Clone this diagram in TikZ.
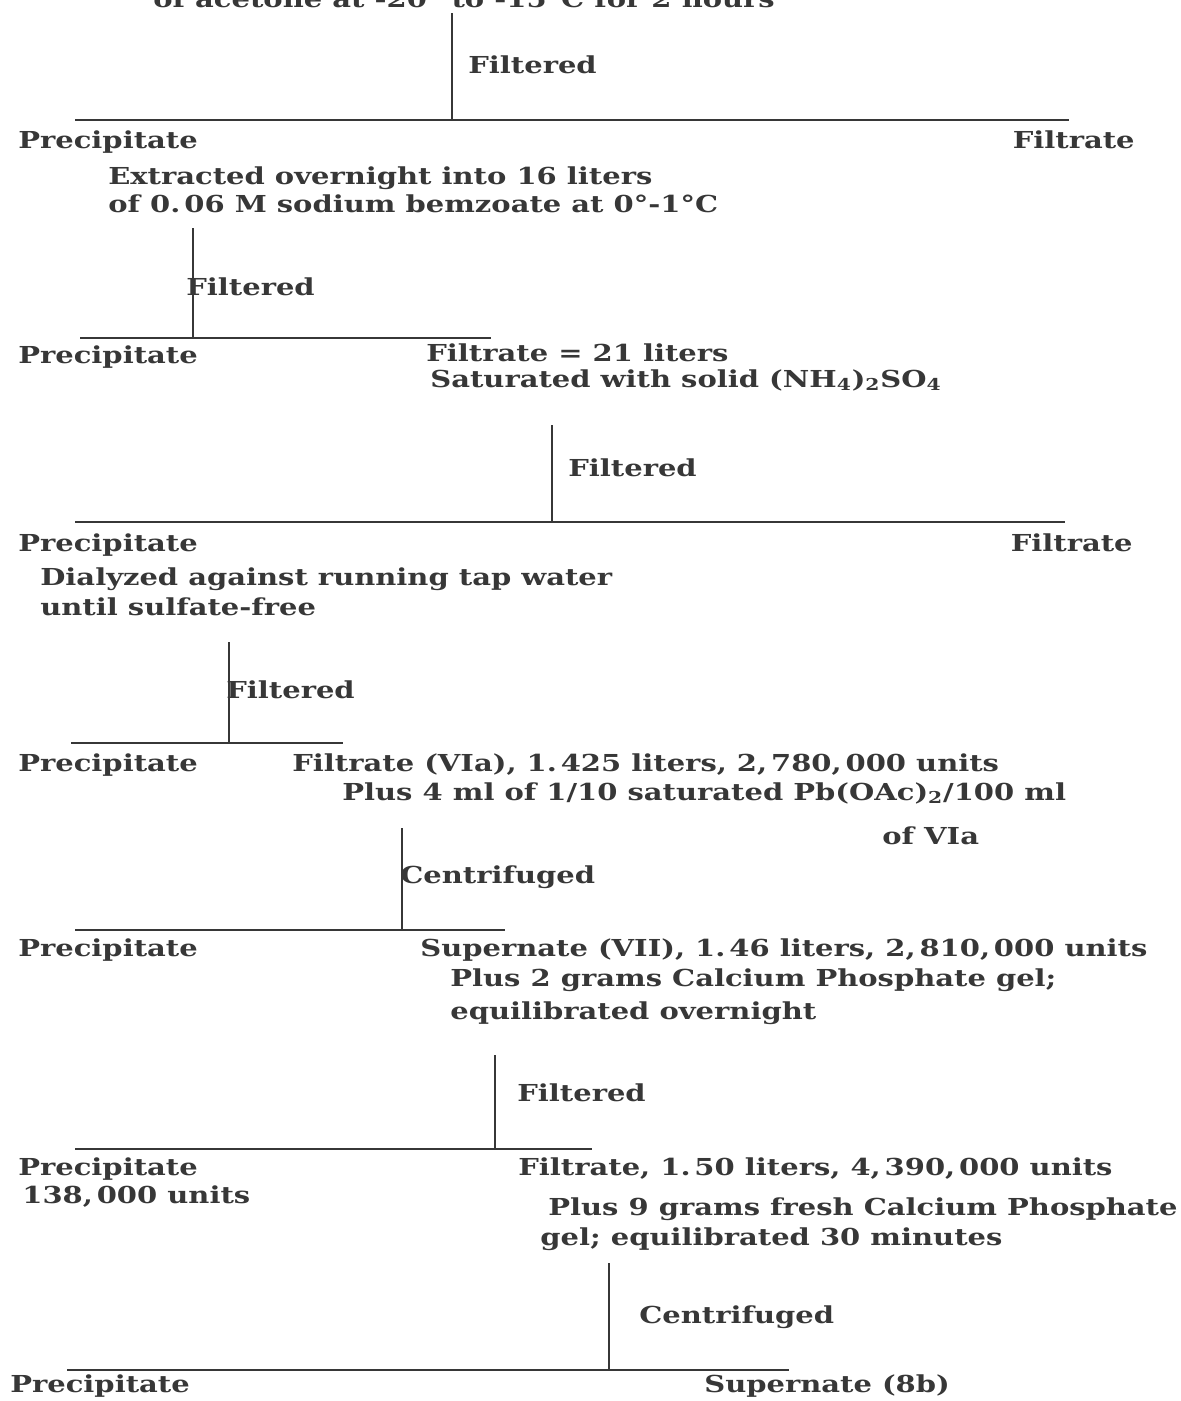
\documentclass[tikz,border=0pt]{standalone}
\usepackage{fontspec}
\newfontfamily\typed{DejaVu Serif}[FakeStretch=1.24]
\usepackage{tikz}
\usetikzlibrary{positioning}
\definecolor{ink}{RGB}{55,55,55}
\tikzset{
  stepnote/.style={anchor=base west, inner sep=0pt, text=ink,
    font=\typed\bfseries\fontsize{13.3}{16}\selectfont},
  sidenote/.style={stepnote, anchor=base east},
  stem/.style={draw=ink, line width=1.3pt},
  bar/.style={draw=ink, line width=1.6pt}
}

\begin{document}
\begin{tikzpicture}[x=0.02cm, y=-0.02cm]
  \useasboundingbox (0,0) rectangle (1181,1401);

  %% Step 1: acetone
  \node[stepnote] (acetone) at (153,7) {of acetone at -20° to -15°C for 2 hours};
  \node[stepnote] (filt1) at (468,73) {Filtered};
  \node[stepnote] (prec1) at (18,148) {Precipitate};
  \node[sidenote] (filtr1) at (1135,148) {Filtrate};
  \node[stepnote] (extr) at (108,184) {Extracted overnight into 16 liters};
  \node[stepnote] (benz) at (108,212) {of 0.\,06 M sodium bemzoate at 0°-1°C};

  %% Step 2: benzoate extract
  \node[stepnote] (filt2) at (186,295) {Filtered};
  \node[stepnote] (prec2) at (18,363) {Precipitate};
  \node[stepnote] (filtr2) at (426,361) {Filtrate = 21 liters};
  \node[stepnote] (satd) at (430,387) {Saturated with solid (NH\textsubscript{4})\textsubscript{2}SO\textsubscript{4}};

  %% Step 3: ammonium sulfate
  \node[stepnote] (filt3) at (568,476) {Filtered};
  \node[stepnote] (prec3) at (18,551) {Precipitate};
  \node[sidenote] (filtr3) at (1133,551) {Filtrate};
  \node[stepnote] (dial) at (40,585) {Dialyzed against running tap water};
  \node[stepnote] (sulf) at (40,615) {until sulfate-free};

  %% Step 4: dialysis
  \node[stepnote] (filt4) at (226,698) {Filtered};
  \node[stepnote] (prec4) at (18,771) {Precipitate};
  \node[stepnote] (filtr4) at (292,771) {Filtrate (VIa), 1.\,425 liters, 2,\,780,\,000 units};
  \node[stepnote] (lead) at (342,800) {Plus 4 ml of 1/10 saturated Pb(OAc)\textsubscript{2}/100 ml};
  \node[stepnote] (ofvia) at (882,844) {of VIa};

  %% Step 5: lead acetate
  \node[stepnote] (cent5) at (400,883) {Centrifuged};
  \node[stepnote] (prec5) at (18,956) {Precipitate};
  \node[stepnote] (sup5) at (420,956) {Supernate (VII), 1.\,46 liters, 2,\,810,\,000 units};
  \node[stepnote] (gel5) at (450,986) {Plus 2 grams Calcium Phosphate gel;};
  \node[stepnote] (eq5) at (450,1019) {equilibrated overnight};

  %% Step 6: first gel
  \node[stepnote] (filt6) at (517,1101) {Filtered};
  \node[stepnote] (prec6) at (18,1175) {Precipitate};
  \node[stepnote] (units6) at (22,1203) {138,\,000 units};
  \node[stepnote] (filtr6) at (518,1175) {Filtrate, 1.\,50 liters, 4,\,390,\,000 units};
  \node[stepnote] (gel6) at (548,1215) {Plus 9 grams fresh Calcium Phosphate};
  \node[stepnote] (eq6) at (540,1245) {gel; equilibrated 30 minutes};

  %% Step 7: second gel
  \node[stepnote] (cent7) at (639,1323) {Centrifuged};
  \node[stepnote] (prec7) at (10,1392) {Precipitate};
  \node[stepnote] (sup7) at (704,1392) {Supernate (8b)};

  %% Stems and bars
  \coordinate (s1) at (452,13);   \coordinate (j1) at (452,120);
  \coordinate (l1) at (75,120);   \coordinate (r1) at (1069,120);
  \coordinate (s2) at (193,228);  \coordinate (j2) at (193,338);
  \coordinate (l2) at (80,338);   \coordinate (r2) at (491,338);
  \coordinate (s3) at (552,425);  \coordinate (j3) at (552,522);
  \coordinate (l3) at (75,522);   \coordinate (r3) at (1065,522);
  \coordinate (s4) at (229,642);  \coordinate (j4) at (229,743);
  \coordinate (l4) at (71,743);   \coordinate (r4) at (343,743);
  \coordinate (s5) at (402,828);  \coordinate (j5) at (402,930);
  \coordinate (l5) at (75,930);   \coordinate (r5) at (505,930);
  \coordinate (s6) at (495,1055); \coordinate (j6) at (495,1149);
  \coordinate (l6) at (75,1149);  \coordinate (r6) at (592,1149);
  \coordinate (s7) at (609,1263); \coordinate (j7) at (609,1370);
  \coordinate (l7) at (67,1370);  \coordinate (r7) at (789,1370);

  \draw[stem] (s1) -- (j1);  \draw[bar] (l1) -- (r1);
  \draw[stem] (s2) -- (j2);  \draw[bar] (l2) -- (r2);
  \draw[stem] (s3) -- (j3);  \draw[bar] (l3) -- (r3);
  \draw[stem] (s4) -- (j4);  \draw[bar] (l4) -- (r4);
  \draw[stem] (s5) -- (j5);  \draw[bar] (l5) -- (r5);
  \draw[stem] (s6) -- (j6);  \draw[bar] (l6) -- (r6);
  \draw[stem] (s7) -- (j7);  \draw[bar] (l7) -- (r7);

\end{tikzpicture}
\end{document}
